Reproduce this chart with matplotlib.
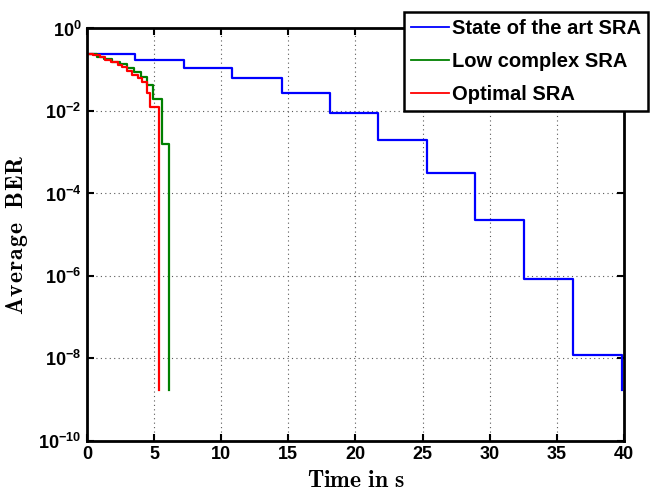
import matplotlib
matplotlib.use("Agg")
import matplotlib.pyplot as plt
from matplotlib.ticker import LogLocator, NullLocator

# step boundaries (s) and BER level held on each step; last value is the end point
blue_t = [0, 3.57, 7.21, 10.78, 14.5, 18.07, 21.7, 25.35, 28.9, 32.56, 36.2, 39.85]
blue_ber = [0.24, 0.17, 0.11, 0.063, 0.027, 0.009, 0.002, 3.1e-4, 2.3e-5, 8.5e-7, 1.2e-8, 1.7e-9]

green_t = [0, 0.74, 1.26, 1.86, 2.45, 2.97, 3.49, 4.01, 4.46, 4.91, 5.61, 6.10]
green_ber = [0.238, 0.207, 0.180, 0.157, 0.136, 0.109, 0.087, 0.066, 0.042, 0.020, 0.0016, 1.7e-9]

red_t = [0, 0.45, 0.97, 1.34, 1.78, 2.30, 2.60, 2.97, 3.35, 3.79, 4.09, 4.46, 4.68, 5.35]
red_ber = [0.238, 0.222, 0.198, 0.173, 0.152, 0.131, 0.114, 0.094, 0.073, 0.0625, 0.050,
           0.027, 0.0124, 1.7e-9]

labels = ["State of the art SRA", "Low complex SRA", "Optimal SRA"]
x_ticks = [0, 5, 10, 15, 20, 25, 30, 35, 40]

plt.rcParams["font.family"] = ["Liberation Sans", "DejaVu Sans"]
plt.rcParams["mathtext.default"] = "regular"

fig = plt.figure(figsize=(6.54, 4.91), dpi=100)
ax = fig.add_axes([0.133, 0.102, 0.821, 0.840])

ax.plot(blue_t, blue_ber, drawstyle="steps-post", color=(0, 0, 1), lw=1.6, label=labels[0])
ax.plot(green_t, green_ber, drawstyle="steps-post", color=(0, 0.5, 0), lw=1.6, label=labels[1])
ax.plot(red_t, red_ber, drawstyle="steps-post", color=(1, 0, 0), lw=1.6, label=labels[2])

ax.set_yscale("log")
ax.set_xlim(0, 40)
ax.set_ylim(1e-10, 1)
ax.set_xticks(x_ticks)
ax.yaxis.set_major_locator(LogLocator(base=100))
ax.yaxis.set_minor_locator(NullLocator())

ax.grid(True, which="major", color="0.35", linestyle=(0, (1, 3)), lw=0.8)
ax.tick_params(which="both", direction="in", top=True, right=True, length=5, width=1.5,
               labelsize=13, pad=4)
for lab in ax.get_xticklabels() + ax.get_yticklabels():
    lab.set_fontweight("bold")
for s in ax.spines.values():
    s.set_linewidth(2.0)

ax.set_xlabel(r"$\mathbf{Time\ in\ s}$", math_fontfamily="cm", fontsize=17, labelpad=5)
ax.set_ylabel(r"$\mathbf{A\!\:v\!\:e\!\:r\!\:a\!\:g\!\:e\ \ B\!\:E\!\:R}$", math_fontfamily="cm",
              fontsize=17, labelpad=6)

leg = ax.legend(loc="upper right", bbox_to_anchor=(648 / 654, 1 - 12 / 491),
                bbox_transform=fig.transFigure, fancybox=False, framealpha=1,
                edgecolor="k", borderaxespad=0, handlelength=1.9, handletextpad=0.15,
                labelspacing=0.7, borderpad=0.35, prop={"size": 14.5, "weight": "bold"})
leg.get_frame().set_linewidth(1.8)
for line in leg.get_lines():
    line.set_linewidth(1.3)

fig.savefig("out.png", dpi=100)
